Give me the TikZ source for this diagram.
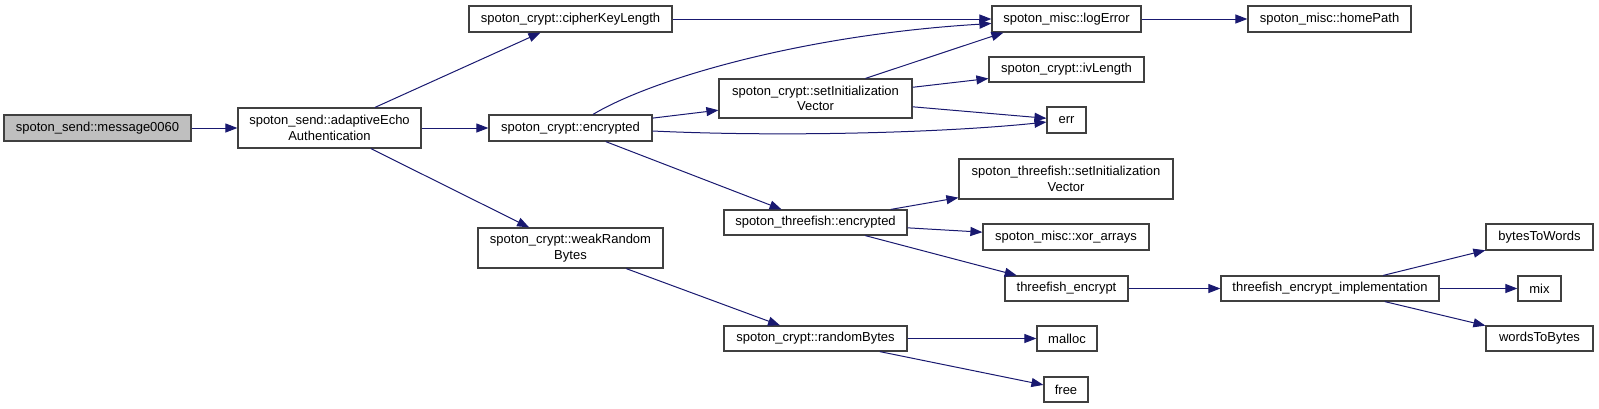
\documentclass[tikz,border=0pt]{standalone}
\usepackage{fontspec}
\setmainfont{Liberation Sans}
\usetikzlibrary{arrows.meta}
\definecolor{edgeblue}{HTML}{191970}
\definecolor{rootgray}{HTML}{BFBFBF}
\definecolor{boxline}{HTML}{404040}

\begin{document}
\begin{tikzpicture}[x=1pt,y=-1pt,
 every node/.style={font=\fontsize{13}{15.5}\selectfont,align=center},
 fn/.style={draw=boxline,line width=1.2pt,fill=white,inner sep=0pt,minimum height=26pt},
 two/.style={fn,minimum height=40pt},
 root/.style={fn,fill=rootgray},
 arr/.style={-{Triangle[length=12pt,width=9pt]},draw=edgeblue,line width=1pt}]
 \useasboundingbox (0,0) rectangle (1599,408);
 % callers on the left
 \node[root,minimum width=187pt] (msg) at (97.5,128) {spoton\_send::message0060};
 \node[two,minimum width=183pt] (aea) at (329.5,128) {spoton\_send::adaptiveEcho\\Authentication};
 \node[fn,minimum width=203pt] (ckl) at (570.5,19) {spoton\_crypt::cipherKeyLength};
 \node[fn,minimum width=163pt] (cenc) at (570.5,128) {spoton\_crypt::encrypted};
 \node[two,minimum width=185pt] (wrb) at (570.5,248) {spoton\_crypt::weakRandom\\Bytes};
 % middle column
 \node[two,minimum width=193pt,minimum height=39pt] (civ) at (815.5,98.5) {spoton\_crypt::setInitialization\\Vector};
 \node[fn,minimum width=183pt,minimum height=25pt] (tenc) at (815.5,222.5) {spoton\_threefish::encrypted};
 \node[fn,minimum width=183pt,minimum height=25pt] (rnd) at (815.5,338.5) {spoton\_crypt::randomBytes};
 % right columns
 \node[fn,minimum width=149pt] (log) at (1066.5,19) {spoton\_misc::logError};
 \node[fn,minimum width=155pt,minimum height=25pt] (ivl) at (1066.5,69.5) {spoton\_crypt::ivLength};
 \node[fn,minimum width=39pt] (err) at (1066.5,120) {err};
 \node[two,minimum width=214pt] (tsiv) at (1066,179) {spoton\_threefish::setInitialization\\Vector};
 \node[fn,minimum width=166pt] (xor) at (1066,237) {spoton\_misc::xor\_arrays};
 \node[fn,minimum width=123pt,minimum height=25pt] (tfe) at (1066.5,288.5) {threefish\_encrypt};
 \node[fn,minimum width=60pt,minimum height=25pt] (mal) at (1067,338.5) {malloc};
 \node[fn,minimum width=44pt,minimum height=25pt] (fre) at (1066,389.5) {free};
 \node[fn,minimum width=163pt] (home) at (1329.5,19) {spoton\_misc::homePath};
 \node[fn,minimum width=218pt,minimum height=25pt] (impl) at (1330,288.5) {threefish\_encrypt\_implementation};
 \node[fn,minimum width=107pt] (b2w) at (1539.5,237) {bytesToWords};
 \node[fn,minimum width=43pt,minimum height=25pt] (mix) at (1539.5,288.5) {mix};
 \node[fn,minimum width=107pt,minimum height=25pt] (w2b) at (1539.5,338.5) {wordsToBytes};
 % calls
 \draw[arr] (msg)--(aea);
 \draw[arr] (aea)--(ckl);
 \draw[arr] (aea)--(cenc);
 \draw[arr] (aea)--(wrb);
 \draw[arr] (ckl)--(log);
 \draw[arr] (cenc) .. controls (650,80) and (800,35) .. (log);
 \draw[arr] (cenc)--(civ);
 \draw[arr] ([yshift=-3pt]cenc.east) .. controls (780,137) and (940,133) .. (err);
 \draw[arr] (cenc)--(tenc);
 \draw[arr] ([xshift=50pt]civ.north)--([xshift=12pt]log.south west);
 \draw[arr] (civ)--(ivl);
 \draw[arr] (civ)--(err);
 \draw[arr] (log)--(home);
 \draw[arr] (tenc)--(tsiv);
 \draw[arr] (tenc)--(xor);
 \draw[arr] (tenc)--(tfe);
 \draw[arr] (tfe)--(impl);
 \draw[arr] (impl)--(b2w);
 \draw[arr] (impl)--(mix);
 \draw[arr] (impl)--(w2b);
 \draw[arr] (wrb)--(rnd);
 \draw[arr] (rnd)--(mal);
 \draw[arr] (rnd)--(fre);
\end{tikzpicture}
\end{document}
